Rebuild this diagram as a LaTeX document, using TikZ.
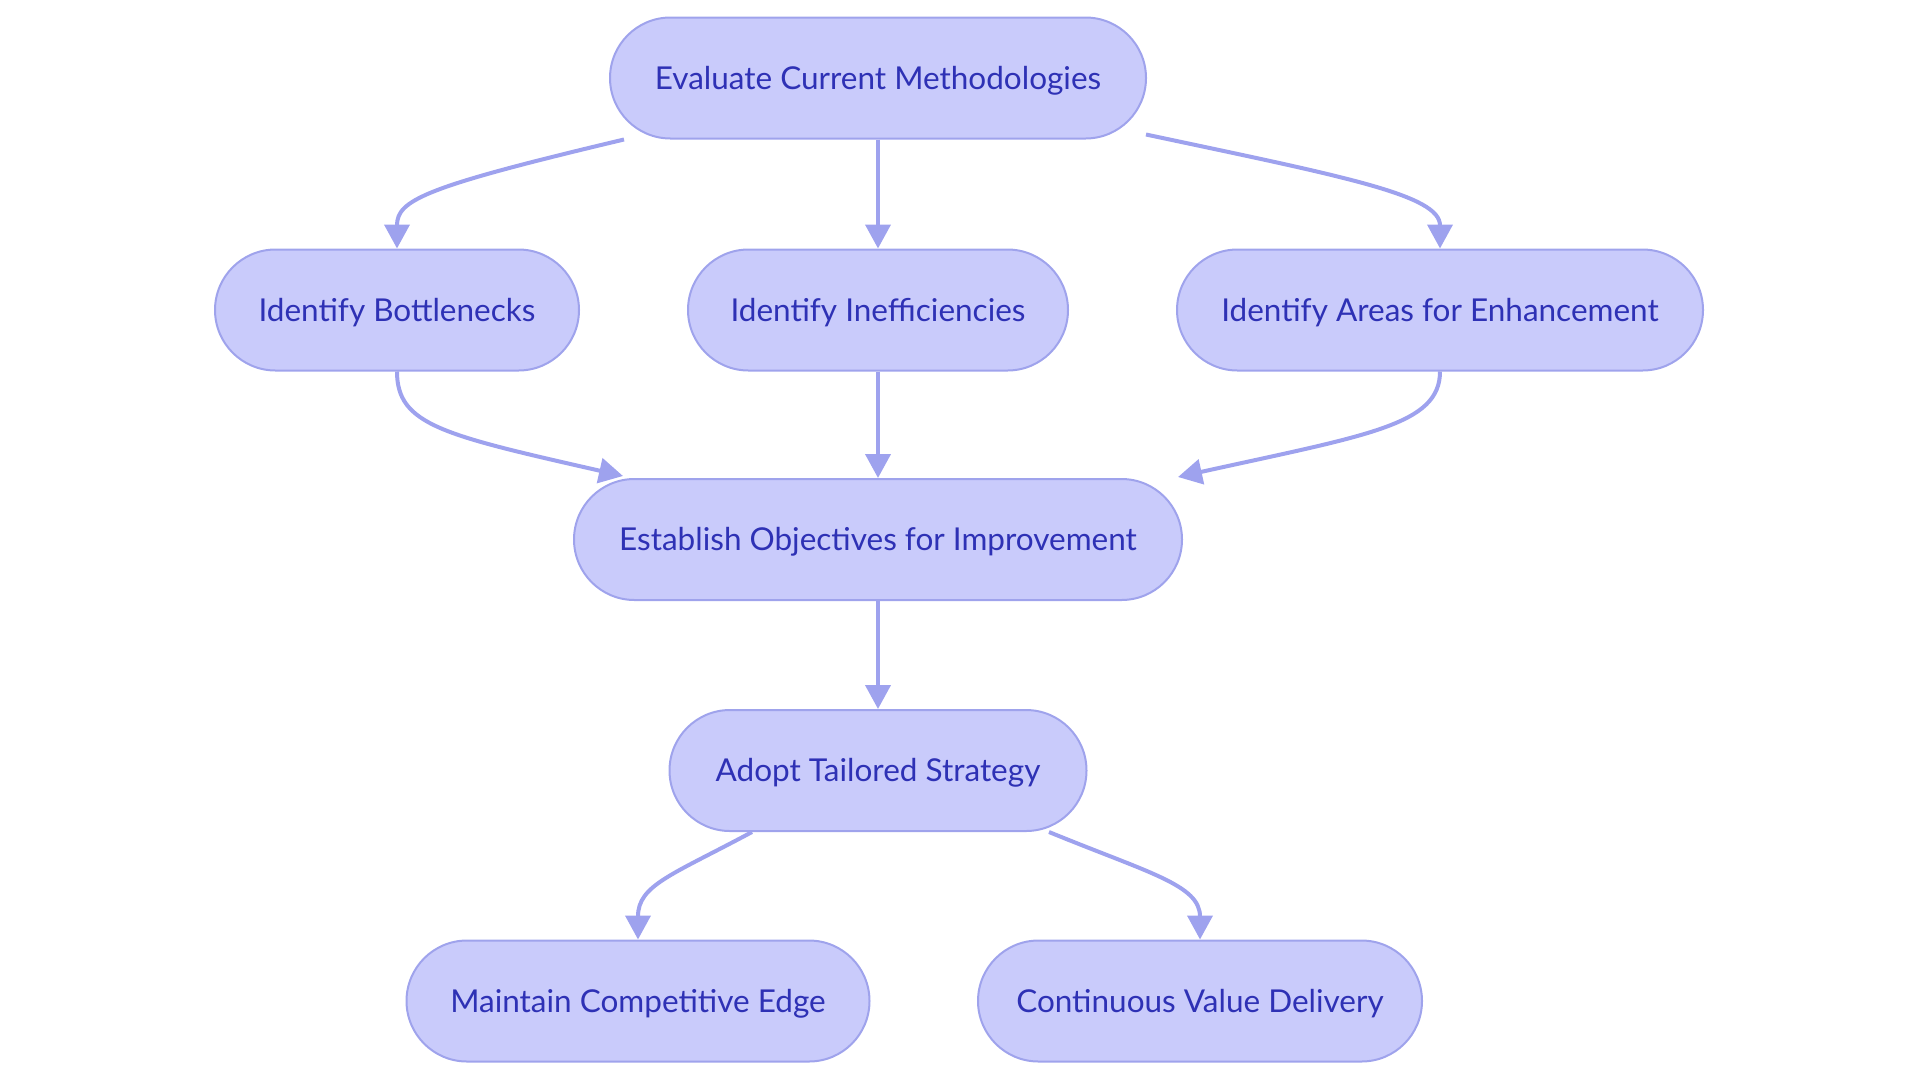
\documentclass[tikz,border=0pt]{standalone}
\usepackage{fontspec}
\setmainfont{Lato}
\usetikzlibrary{shapes.misc,arrows.meta,calc}
\definecolor{nodefill}{HTML}{C9CBFB}
\definecolor{nodeline}{HTML}{9FA3EC}
\definecolor{edgecol}{HTML}{9EA2EE}
\definecolor{txtcol}{HTML}{2E31B5}
\tikzset{
  box/.style={rounded rectangle, draw=nodeline, fill=nodefill, line width=2pt,
    minimum height=121pt, inner sep=0pt, text=txtcol,
    text height=22.7pt, text depth=0pt,
    font=\fontsize{31.5}{36}\selectfont},
  link/.style={draw=edgecol, line width=4pt,
    -{Triangle[length=24pt,width=25pt]}}
}
\begin{document}
\begin{tikzpicture}[x=1pt,y=-1pt]
\useasboundingbox (0,0) rectangle (1920,1080);
\node[box, minimum width=536pt] (ev) at (878,78) {Evaluate Current Methodologies};
\node[box, minimum width=364pt] (bo) at (397,310) {Identify Bottlenecks};
\node[box, minimum width=380pt] (in) at (878,310) {Identify Inefficiencies};
\node[box, minimum width=526pt] (ar) at (1440,310) {Identify Areas for Enhancement};
\node[box, minimum width=608pt] (es) at (878,539.5) {Establish Objectives for Improvement};
\node[box, minimum width=417pt] (ad) at (878,770.5) {Adopt Tailored Strategy};
\node[box, minimum width=463pt] (ma) at (638,1001) {Maintain Competitive Edge};
\node[box, minimum width=444pt] (co) at (1200,1001) {Continuous Value Delivery};

\draw[link] ($(ev.south)+(-254,0)$) .. controls (424,187) and (397,200) .. (bo.north);
\draw[link] (ev.south) -- (in.north);
\draw[link] ($(ev.south)+(268,-5)$) .. controls (1346,177) and (1440,195) .. (ar.north);

\draw[link] (bo.south) .. controls (397,425) and (443,435) .. ($(es.north)+(-255,-2)$);
\draw[link] (in.south) -- (es.north);
\draw[link] (ar.south) .. controls (1440,425) and (1368,435) .. ($(es.north)+(300,-1)$);

\draw[link] (es.south) -- (ad.north);
\draw[link] ($(ad.south)+(-126,0)$) .. controls (672,875) and (638,885) .. (ma.north);
\draw[link] ($(ad.south)+(171,0)$) .. controls (1149,873) and (1200,885) .. (co.north);
\end{tikzpicture}
\end{document}
